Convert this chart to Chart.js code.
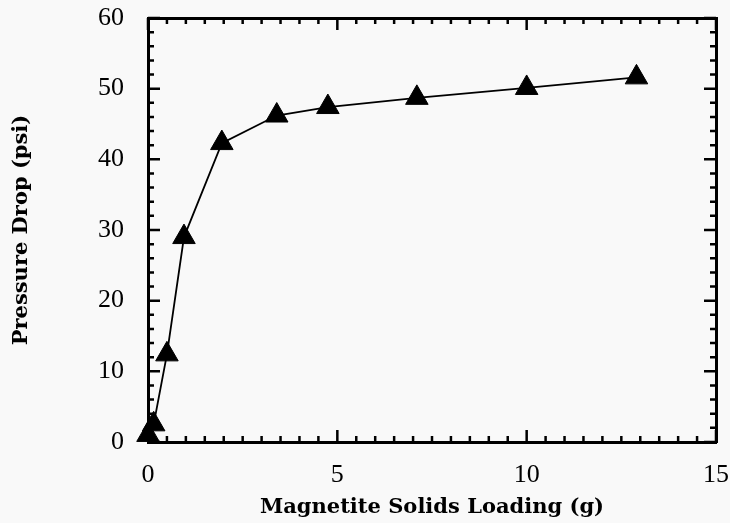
<!DOCTYPE html>
<html>
<head>
<meta charset="utf-8">
<script src="https://cdn.jsdelivr.net/npm/chart.js@4"></script>
<style>
  body { margin: 0; background: #f9f9f9; }
  canvas { display: block; }
</style>
</head>
<body>
<canvas id="chart" width="730" height="523"></canvas>
<script>
// dados
var loading = [0, 0.15, 0.5, 0.95, 1.95, 3.4, 4.75, 7.1, 10.0, 12.9]; // g
var pressure = [1.0, 2.5, 12.4, 29.0, 42.3, 46.2, 47.4, 48.7, 50.1, 51.6]; // psi
var xTicks = [0, 5, 10, 15];
var yTicks = [0, 10, 20, 30, 40, 50, 60];

var tickFont = { family: '"Liberation Serif", "DejaVu Serif", serif', size: 26 };
var titleFont = { family: '"DejaVu Serif", "Liberation Serif", serif', size: 21, weight: 'bold' };

// marcas para dentro do quadro (maiores e menores)
var innerTicks = {
    id: 'innerTicks',
    afterDatasetsDraw: function (chart) {
        var ctx = chart.ctx, a = chart.chartArea;
        var sx = chart.scales.x, sy = chart.scales.y;
        ctx.save();
        ctx.strokeStyle = '#000';
        ctx.lineWidth = 2.5;
        ctx.beginPath();
        for (var v = 0; v <= 15.001; v += 0.5) {
            var px = sx.getPixelForValue(v);
            var len = (Math.abs(v % 5) < 0.01) ? 12 : 6;
            ctx.moveTo(px, a.bottom); ctx.lineTo(px, a.bottom - len);
            ctx.moveTo(px, a.top); ctx.lineTo(px, a.top + len);
        }
        for (var w = 0; w <= 60; w += 2) {
            var py = sy.getPixelForValue(w);
            var l2 = (w % 10 === 0) ? 12 : 6;
            ctx.moveTo(a.left, py); ctx.lineTo(a.left + l2, py);
            ctx.moveTo(a.right, py); ctx.lineTo(a.right - l2, py);
        }
        ctx.stroke();
        ctx.restore();
    }
};

var ctx = document.getElementById('chart').getContext('2d');
var chart = new Chart(ctx, {
    type: 'scatter',
    data: {
        datasets: [{
            data: loading.map(function (x, i) { return { x: x, y: pressure[i] }; }),
            showLine: true,
            clip: false,
            borderColor: '#000',
            borderWidth: 1.8,
            pointStyle: 'triangle',
            pointRadius: 13,
            pointBackgroundColor: '#000',
            pointBorderColor: '#000',
            pointBorderWidth: 1
        }]
    },
    options: {
        responsive: false,
        animation: false,
        layout: { padding: 0 },
        plugins: { legend: { display: false }, tooltip: { enabled: false } },
        scales: {
            x: {
                type: 'linear', min: 0, max: 15,
                afterBuildTicks: function (s) { s.ticks = xTicks.map(function (v) { return { value: v }; }); },
                ticks: { color: '#000', padding: 10, maxRotation: 0, font: tickFont },
                grid: { display: false },
                border: { color: '#000', width: 3 },
                title: { display: true, text: 'Magnetite Solids Loading (g)', color: '#000',
                         padding: { top: 0, bottom: 3 }, font: titleFont },
                afterFit: function (s) { s.height = 81; s.paddingLeft = 0; s.paddingRight = 0; }
            },
            y: {
                type: 'linear', min: 0, max: 60,
                afterBuildTicks: function (s) { s.ticks = yTicks.map(function (v) { return { value: v }; }); },
                ticks: { color: '#000', padding: 16, font: tickFont },
                grid: { display: false },
                border: { color: '#000', width: 3 },
                title: { display: true, text: 'Pressure Drop (psi)', color: '#000',
                         padding: { top: 9, bottom: 0 }, font: titleFont },
                afterFit: function (s) { s.width = 148; s.paddingTop = 0; s.paddingBottom = 0; }
            },
            x2: {
                type: 'linear', position: 'top', min: 0, max: 15,
                ticks: { display: false }, grid: { display: false },
                border: { color: '#000', width: 3 },
                afterFit: function (s) { s.height = 18; s.paddingLeft = 0; s.paddingRight = 0; }
            },
            y2: {
                type: 'linear', position: 'right', min: 0, max: 60,
                ticks: { display: false }, grid: { display: false },
                border: { color: '#000', width: 3 },
                afterFit: function (s) { s.width = 13; }
            }
        }
    },
    plugins: [innerTicks]
});
</script>
</body>
</html>
